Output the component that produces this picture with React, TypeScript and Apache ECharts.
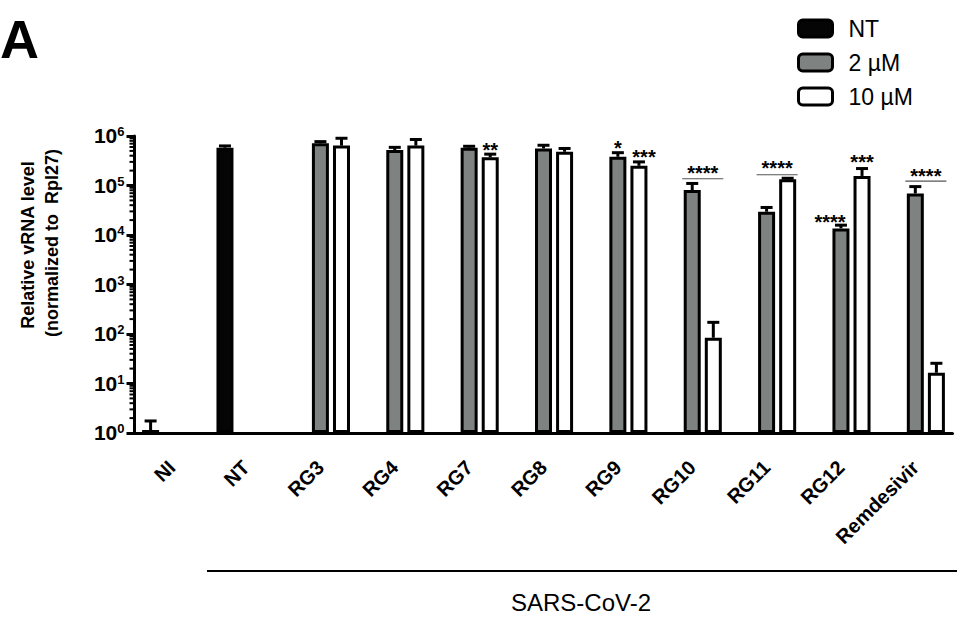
import React, { useEffect, useRef } from "react";
import * as echarts from "echarts";

const categories = ["NI", "NT", "RG3", "RG4", "RG7", "RG8", "RG9", "RG10", "RG11", "RG12", "Remdesivir"];
const seriesNames = ["NT", "2 µM", "10 µM"];
const ntValues = [1.15, 5.8e5, null, null, null, null, null, null, null, null, null];
const ntErrTop = [1.75, 6.3e5, null, null, null, null, null, null, null, null, null];
const lowValues = [null, null, 7.1e5, 5.2e5, 5.8e5, 5.6e5, 3.8e5, 8.1e4, 2.95e4, 1.36e4, 6.9e4];
const lowErrTop = [null, null, 7.7e5, 5.9e5, 6.2e5, 6.5e5, 4.6e5, 1.1e5, 3.6e4, 1.58e4, 9.5e4];
const highValues = [null, null, 6.4e5, 6.4e5, 3.7e5, 4.8e5, 2.5e5, 84, 1.33e5, 1.56e5, 16.5];
const highErrTop = [null, null, 9.0e5, 8.5e5, 4.3e5, 5.6e5, 3.0e5, 172, 1.4e5, 2.2e5, 25.6];

const yTicks = [1, 10, 100, 1000, 10000, 100000, 1000000];
const minorTickValues = [2, 3, 4, 5, 6, 7, 8, 9];

// significance marks: category index, bar slot (0 = NT, 1 = 2 µM, 2 = 10 µM), level, text
const starCats = [4, 6, 6, 7, 8, 9, 9, 10];
const starSlots = [2, 1, 2.24, 1.5, 1.5, 0.48, 2, 1.5];
const starLevels = [6.6e5, 7.2e5, 4.8e5, 2.25e5, 2.85e5, 2.3e4, 3.8e5, 1.96e5];
const starTexts = ["**", "*", "***", "****", "****", "****", "***", "****"];

const bracketCats = [7, 8, 10];
const bracketLevels = [1.37e5, 1.65e5, 1.23e5];

const FONT = "'Liberation Sans', Arial, Helvetica, sans-serif";
const BAR_W = 17;
const GAP = 0.24;
const SLOT = BAR_W * (1 + GAP);
const GRAY = "#7e8281";

export default function App() {
  const ref = useRef<HTMLDivElement>(null);
  useEffect(() => {
    if (!ref.current) return;
    const chart = echarts.init(ref.current, undefined, { renderer: "svg" });

    const minorData: number[][] = [];
    for (let k = 0; k < 6; k++) {
      minorTickValues.forEach((m) => minorData.push([0, m * Math.pow(10, k)]));
    }

    const errData: any[] = [];
    const addErr = (vals: (number | null)[], tops: (number | null)[], slot: number) => {
      vals.forEach((v, i) => {
        const t = tops[i];
        if (v != null && t != null) errData.push([i, slot, v, t]);
      });
    };
    addErr(ntValues, ntErrTop, 0);
    addErr(lowValues, lowErrTop, 1);
    addErr(highValues, highErrTop, 2);

    const starData = starCats.map((c, i) => [c, starSlots[i], starLevels[i]]);
    const bracketData = bracketCats.map((c, i) => [c, bracketLevels[i]]);

    const barCommon = {
      type: "bar",
      barWidth: BAR_W,
      barGap: GAP * 100 + "%",
      barCategoryGap: "10%",
      z: 2,
    };

    const option: any = {
      animation: false,
      backgroundColor: "#fff",
      textStyle: { fontFamily: FONT },
      grid: { left: 134.5, right: 4.5, top: 136, bottom: 186 },
      legend: {
        orient: "vertical",
        left: 797,
        top: 17,
        padding: 0,
        itemWidth: 34,
        itemHeight: 17,
        itemGap: 11,
        icon: "roundRect",
        itemStyle: { borderColor: "#000", borderWidth: 3 },
        textStyle: { fontSize: 23, color: "#000", fontFamily: FONT, lineHeight: 20, padding: [0, 0, 0, 11] },
        data: seriesNames,
        selectedMode: false,
      },
      xAxis: {
        type: "category",
        data: categories,
        axisLine: { onZero: false, lineStyle: { color: "#000", width: 3 } },
        axisTick: { alignWithLabel: true, length: 8, lineStyle: { color: "#000", width: 3 } },
        axisLabel: {
          rotate: 45,
          margin: 31,
          fontSize: 20,
          fontWeight: "bold",
          color: "#000",
          fontFamily: FONT,
          interval: 0,
        },
        splitLine: { show: false },
      },
      yAxis: {
        type: "log",
        logBase: 10,
        min: 1,
        max: 1000000,
        axisLine: { show: true, lineStyle: { color: "#000", width: 3 } },
        axisTick: { show: true, length: 8, lineStyle: { color: "#000", width: 3 } },
        splitLine: { show: false },
        axisLabel: {
          margin: 10,
          color: "#000",
          formatter: (v: number) => {
            const e = Math.round(Math.log10(v));
            if (!yTicks.includes(Math.pow(10, e))) return "";
            return "{b|10}{s|" + e + "}";
          },
          rich: {
            b: { fontSize: 21, fontWeight: "bold", fontFamily: FONT, color: "#000", lineHeight: 22, verticalAlign: "top" },
            s: { fontSize: 13, fontWeight: "bold", fontFamily: FONT, color: "#000", lineHeight: 22, verticalAlign: "top", padding: [0, 0, 9, 0] },
          },
        },
      },
      series: [
        {
          ...barCommon,
          name: seriesNames[0],
          data: ntValues,
          itemStyle: { color: "#050505", borderColor: "#000", borderWidth: 3 },
        },
        {
          ...barCommon,
          name: seriesNames[1],
          data: lowValues,
          itemStyle: { color: GRAY, borderColor: "#000", borderWidth: 3 },
        },
        {
          ...barCommon,
          name: seriesNames[2],
          data: highValues,
          itemStyle: { color: "#fff", borderColor: "#000", borderWidth: 3 },
        },
        {
          type: "custom",
          name: "minor",
          data: minorData,
          encode: { x: 0, y: 1 },
          clip: false,
          silent: true,
          z: 5,
          renderItem: (params: any, api: any) => {
            const p = api.coord([0, api.value(1)]);
            const half = api.size([1, 0])[0] / 2;
            const x0 = p[0] - half;
            return {
              type: "line",
              shape: { x1: x0 - 5, y1: p[1], x2: x0, y2: p[1] },
              style: { stroke: "#000", lineWidth: 2 },
            };
          },
        },
        {
          type: "custom",
          name: "err",
          data: errData,
          encode: { x: 0, y: [2, 3] },
          clip: false,
          silent: true,
          z: 4,
          renderItem: (params: any, api: any) => {
            const cat = api.value(0);
            const slot = api.value(1);
            const b = api.coord([cat, api.value(2)]);
            const t = api.coord([cat, api.value(3)]);
            const x = b[0] + (slot - 1) * SLOT;
            return {
              type: "group",
              children: [
                { type: "line", shape: { x1: x, y1: b[1], x2: x, y2: t[1] }, style: { stroke: "#000", lineWidth: 3 } },
                { type: "line", shape: { x1: x - 6, y1: t[1], x2: x + 6, y2: t[1] }, style: { stroke: "#000", lineWidth: 3 } },
              ],
            };
          },
        },
        {
          type: "custom",
          name: "brackets",
          data: bracketData,
          encode: { x: 0, y: 1 },
          clip: false,
          silent: true,
          z: 4,
          renderItem: (params: any, api: any) => {
            const p = api.coord([api.value(0), api.value(1)]);
            const x1 = p[0] - (BAR_W + 3) / 2;
            const x2 = p[0] + SLOT + (BAR_W + 3) / 2;
            return {
              type: "line",
              shape: { x1, y1: p[1], x2, y2: p[1] },
              style: { stroke: "#555", lineWidth: 1.2 },
            };
          },
        },
        {
          type: "custom",
          name: "stars",
          data: starData,
          encode: { x: 0, y: 2 },
          clip: false,
          silent: true,
          z: 6,
          renderItem: (params: any, api: any) => {
            const p = api.coord([api.value(0), api.value(2)]);
            const x = p[0] + (api.value(1) - 1) * SLOT;
            return {
              type: "text",
              x,
              y: p[1] + 5,
              style: {
                text: starTexts[params.dataIndex],
                fontSize: 20,
                fontWeight: "bold",
                fontFamily: FONT,
                fill: "#000",
                align: "center",
                verticalAlign: "middle",
              },
            };
          },
        },
      ],
      graphic: [
        {
          type: "text",
          left: 0,
          top: 12,
          style: { text: "A", fontSize: 54, fontWeight: "bold", fontFamily: FONT, fill: "#000" },
        },
        {
          type: "text",
          x: 28,
          y: 245,
          rotation: Math.PI / 2,
          style: {
            text: "Relative vRNA level",
            fontSize: 18,
            fontWeight: "bold",
            fontFamily: FONT,
            fill: "#000",
            align: "center",
            verticalAlign: "middle",
          },
        },
        {
          type: "text",
          x: 52,
          y: 243,
          rotation: Math.PI / 2,
          style: {
            text: "(normalized to  Rpl27)",
            fontSize: 18,
            fontWeight: "bold",
            fontFamily: FONT,
            fill: "#000",
            align: "center",
            verticalAlign: "middle",
          },
        },
        {
          type: "line",
          shape: { x1: 207, y1: 571, x2: 957, y2: 571 },
          style: { stroke: "#000", lineWidth: 2 },
        },
        {
          type: "text",
          x: 581,
          y: 602,
          style: {
            text: "SARS-CoV-2",
            fontSize: 24,
            fontFamily: FONT,
            fill: "#000",
            align: "center",
            verticalAlign: "middle",
          },
        },
      ],
    };

    chart.setOption(option);
    return () => chart.dispose();
  }, []);

  return <div ref={ref} style={{ position: "fixed", left: 0, top: 0, width: 957, height: 619 }} />;
}
